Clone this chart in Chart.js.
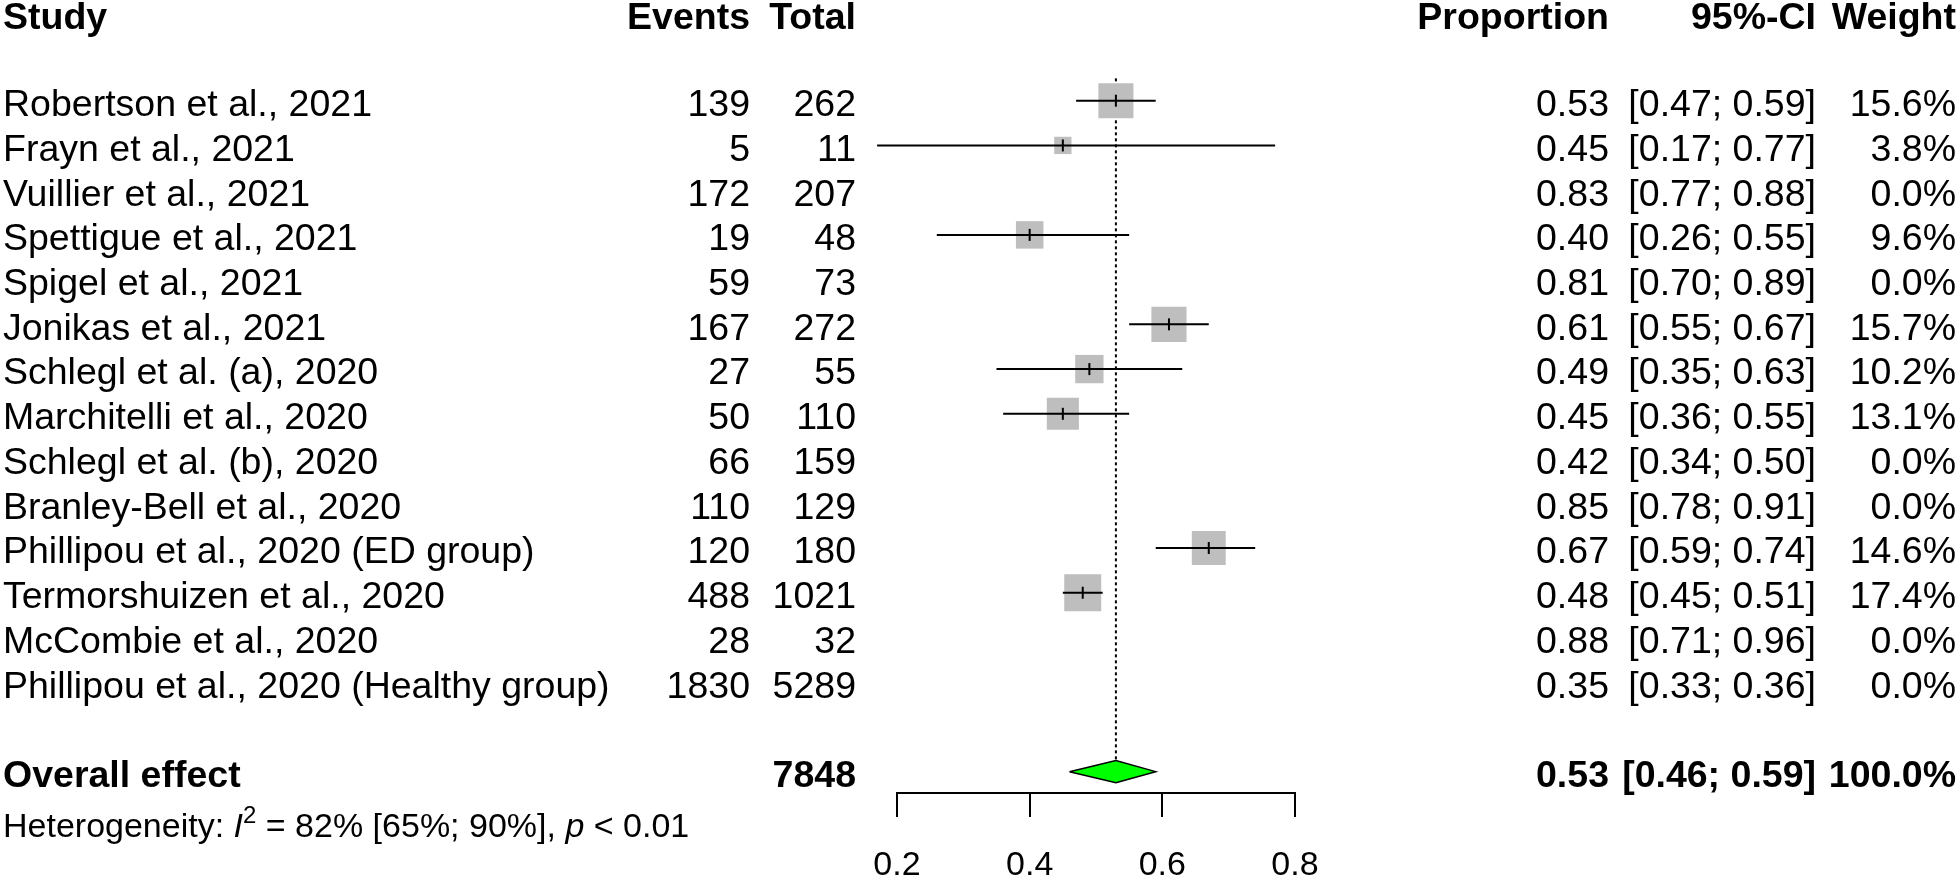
<!DOCTYPE html>
<html>
<head>
<meta charset="utf-8">
<script src="https://cdn.jsdelivr.net/npm/chart.js@4/dist/chart.umd.min.js"></script>
<style>
html,body{margin:0;padding:0;background:#ffffff;}
#wrap{width:1960px;height:878px;position:relative;}
</style>
</head>
<body>
<div id="wrap"><canvas id="c"></canvas></div>
<script>
// ---------------- data ----------------
const studies = [
  "Robertson et al., 2021",
  "Frayn et al., 2021",
  "Vuillier et al., 2021",
  "Spettigue et al., 2021",
  "Spigel et al., 2021",
  "Jonikas et al., 2021",
  "Schlegl et al. (a), 2020",
  "Marchitelli et al., 2020",
  "Schlegl et al. (b), 2020",
  "Branley-Bell et al., 2020",
  "Phillipou et al., 2020 (ED group)",
  "Termorshuizen et al., 2020",
  "McCombie et al., 2020",
  "Phillipou et al., 2020 (Healthy group)"
];
const events = [139, 5, 172, 19, 59, 167, 27, 50, 66, 110, 120, 488, 28, 1830];
const totals = [262, 11, 207, 48, 73, 272, 55, 110, 159, 129, 180, 1021, 32, 5289];
const proportions = [0.53, 0.45, 0.83, 0.40, 0.81, 0.61, 0.49, 0.45, 0.42, 0.85, 0.67, 0.48, 0.88, 0.35];
const ciLower = [0.47, 0.17, 0.77, 0.26, 0.70, 0.55, 0.35, 0.36, 0.34, 0.78, 0.59, 0.45, 0.71, 0.33];
const ciUpper = [0.59, 0.77, 0.88, 0.55, 0.89, 0.67, 0.63, 0.55, 0.50, 0.91, 0.74, 0.51, 0.96, 0.36];
const weights = [15.6, 3.8, 0.0, 9.6, 0.0, 15.7, 10.2, 13.1, 0.0, 0.0, 14.6, 17.4, 0.0, 0.0];

const overallLabel = "Overall effect";
const overallTotal = 7848;
const overallEstimate = 0.53;
const overallLower = 0.46;
const overallUpper = 0.59;
const overallWeight = 100.0;
const hetI2 = 82, hetI2Lower = 65, hetI2Upper = 90, hetP = "< 0.01";

const headers = ["Study", "Events", "Total", "Proportion", "95%-CI", "Weight"];
const xTicks = [0.2, 0.4, 0.6, 0.8];

// ---------------- layout constants (styling only) ----------------
const ROW_OVERALL = 15, ROW_HET = 16.15, ROW_HEADER = -1.95;
const DIAMOND_HALF = 0.25;
const FONT = '"Liberation Sans", Arial, Helvetica, sans-serif';
const FS = 37.5;
const COL = {study: 3, events: 750, total: 856, prop: 1609, ci: 1816, weight: 1956};

// ---------------- datasets ----------------
const drawn = studies.map((s, i) => i).filter(i => weights[i] > 0);

const ciDatasets = drawn.map(i => ({
  type: 'line',
  data: [{x: ciLower[i], y: i}, {x: ciUpper[i], y: i}],
  borderColor: '#000000', borderWidth: 2, pointRadius: 0,
  fill: false, tension: 0, clip: false, order: 3
}));

const squareDataset = {
  type: 'scatter',
  data: drawn.map(i => ({x: proportions[i], y: i, w: weights[i]})),
  pointStyle: 'rect',
  pointRadius: ctx => (8.87 * Math.sqrt(ctx.raw ? ctx.raw.w : 0)) / Math.SQRT2,
  backgroundColor: '#bebebe', borderWidth: 0, clip: false, order: 5
};

const estTickDataset = {
  type: 'scatter',
  data: drawn.map(i => ({x: proportions[i], y: i})),
  pointStyle: 'line', pointRotation: 90, pointRadius: 6,
  borderColor: '#000000', borderWidth: 2, clip: false, order: 1
};

const refLineDataset = {
  type: 'line',
  data: [{x: overallEstimate, y: -0.5}, {x: overallEstimate, y: ROW_OVERALL - DIAMOND_HALF}],
  borderColor: '#000000', borderWidth: 2, borderDash: [3, 3], pointRadius: 0,
  fill: false, clip: false, order: 6
};

const diamondDataset = {
  type: 'line',
  data: [
    {x: overallLower, y: ROW_OVERALL},
    {x: overallEstimate, y: ROW_OVERALL - DIAMOND_HALF},
    {x: overallUpper, y: ROW_OVERALL},
    {x: overallEstimate, y: ROW_OVERALL + DIAMOND_HALF},
    {x: overallLower, y: ROW_OVERALL}
  ],
  borderColor: '#000000', borderWidth: 1.5, backgroundColor: '#00ff00',
  fill: 'shape', pointRadius: 0, tension: 0, clip: false, order: 2
};

// ---------------- text plugin ----------------
const textPlugin = {
  id: 'forestText',
  afterDraw(chart) {
    const ctx = chart.ctx;
    const ys = chart.scales.y;
    const put = (txt, x, row, align, bold, size) => {
      size = size || FS;
      ctx.save();
      ctx.fillStyle = '#000000';
      ctx.font = (bold ? 'bold ' : '') + size + 'px ' + FONT;
      ctx.textAlign = align;
      ctx.textBaseline = 'alphabetic';
      ctx.fillText(txt, x, ys.getPixelForValue(row) + 0.41 * size);
      ctx.restore();
    };
    // headers
    put(headers[0], COL.study, ROW_HEADER, 'left', true);
    put(headers[1], COL.events, ROW_HEADER, 'right', true);
    put(headers[2], COL.total, ROW_HEADER, 'right', true);
    put(headers[3], COL.prop, ROW_HEADER, 'right', true);
    put(headers[4], COL.ci, ROW_HEADER, 'right', true);
    put(headers[5], COL.weight, ROW_HEADER, 'right', true);
    // study rows
    studies.forEach((s, i) => {
      put(s, COL.study, i, 'left', false);
      put(String(events[i]), COL.events, i, 'right', false);
      put(String(totals[i]), COL.total, i, 'right', false);
      put(proportions[i].toFixed(2), COL.prop, i, 'right', false);
      put('[' + ciLower[i].toFixed(2) + '; ' + ciUpper[i].toFixed(2) + ']', COL.ci, i, 'right', false);
      put(weights[i].toFixed(1) + '%', COL.weight, i, 'right', false);
    });
    // overall row
    put(overallLabel, COL.study, ROW_OVERALL, 'left', true);
    put(String(overallTotal), COL.total, ROW_OVERALL, 'right', true);
    put(overallEstimate.toFixed(2), COL.prop, ROW_OVERALL, 'right', true);
    put('[' + overallLower.toFixed(2) + '; ' + overallUpper.toFixed(2) + ']', COL.ci, ROW_OVERALL, 'right', true);
    put(overallWeight.toFixed(1) + '%', COL.weight, ROW_OVERALL, 'right', true);
    // heterogeneity
    const hs = 34;
    const base = ys.getPixelForValue(ROW_HET) + 0.41 * hs;
    ctx.save();
    ctx.fillStyle = '#000000';
    ctx.textAlign = 'left';
    ctx.textBaseline = 'alphabetic';
    let x = COL.study;
    const seg = (t, style, size, dy) => {
      ctx.font = style + size + 'px ' + FONT;
      ctx.fillText(t, x, base + (dy || 0));
      x += ctx.measureText(t).width;
    };
    seg('Heterogeneity: ', '', hs);
    seg('I', 'italic ', hs);
    seg('2', '', Math.round(hs * 0.72), -14);
    seg(' = ' + hetI2 + '% [' + hetI2Lower + '%; ' + hetI2Upper + '%], ', '', hs);
    seg('p', 'italic ', hs);
    seg(' ' + hetP, '', hs);
    ctx.restore();
  }
};

// ---------------- chart ----------------
new Chart(document.getElementById('c'), {
  type: 'scatter',
  data: {
    datasets: [estTickDataset, diamondDataset, ...ciDatasets, squareDataset, refLineDataset]
  },
  options: {
    responsive: true,
    maintainAspectRatio: false,
    animation: false,
    events: [],
    layout: {autoPadding: false, padding: {left: 897, right: 665, top: 0, bottom: 0}},
    plugins: {legend: {display: false}, tooltip: {enabled: false}},
    scales: {
      x: {
        type: 'linear', position: 'bottom', min: 0.2, max: 0.8,
        afterBuildTicks: scale => { scale.ticks = xTicks.map(v => ({value: v})); },
        afterFit: scale => { scale.height = 85; },
        border: {display: true, color: '#000000', width: 2},
        grid: {display: true, drawOnChartArea: false, drawTicks: true, tickLength: 24, color: '#000000', lineWidth: 2},
        ticks: {
          color: '#000000', padding: 28, maxRotation: 0,
          font: {family: FONT, size: 34},
          callback: v => Number(v).toFixed(1)
        }
      },
      y: {
        type: 'linear', display: false, reverse: true,
        min: -2.2513, max: 15.4773
      }
    }
  },
  plugins: [textPlugin]
});
</script>
</body>
</html>
